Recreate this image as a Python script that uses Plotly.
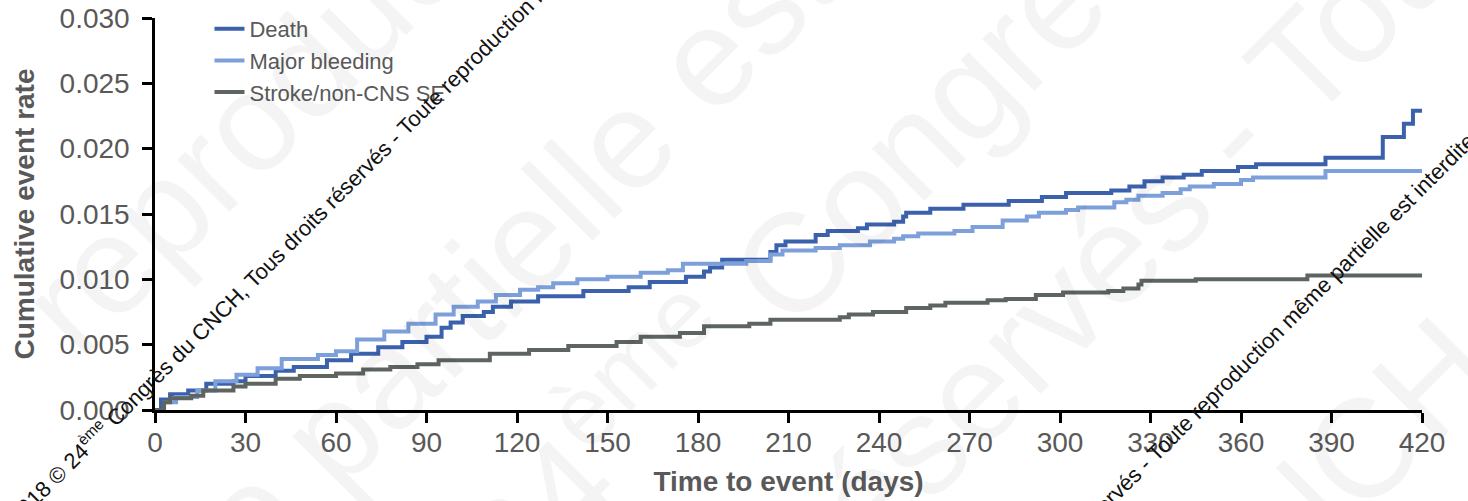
import plotly.graph_objects as go

# ---- data ----
death_t = [0, 2, 5, 11, 17, 26, 30, 40, 46, 57, 65, 74, 82, 90, 95, 98, 102, 109, 112, 118,
           127, 142, 157, 164, 176, 182, 184, 188, 204, 206, 209, 219, 223, 233, 236, 245,
           248, 249, 257, 268, 283, 294, 302, 317, 323, 328, 334, 341, 347, 359, 365, 388,
           407, 414, 417, 420]
death_v = [0, 0.0008, 0.0012, 0.0015, 0.0020, 0.0022, 0.0026, 0.0030, 0.0033, 0.0038,
           0.0043, 0.0048, 0.0052, 0.0056, 0.0063, 0.0067, 0.0072, 0.0075, 0.0079, 0.0083,
           0.0087, 0.0091, 0.0094, 0.0098, 0.0102, 0.0106, 0.0109, 0.0115, 0.0121, 0.0126,
           0.0129, 0.0134, 0.0137, 0.0139, 0.0142, 0.0144, 0.0148, 0.0151, 0.0154, 0.0157,
           0.0160, 0.0163, 0.0166, 0.0168, 0.0171, 0.0175, 0.0178, 0.0180, 0.0183, 0.0186,
           0.0188, 0.0193, 0.0209, 0.0219, 0.0229, 0.0229]

bleed_t = [0, 3, 7, 14, 20, 27, 34, 42, 54, 60, 67, 76, 84, 93, 99, 107, 113, 121, 127, 132,
           140, 150, 161, 170, 175, 196, 204, 208, 219, 227, 237, 245, 248, 253, 265, 271,
           281, 289, 293, 302, 306, 318, 322, 326, 334, 340, 343, 351, 360, 364, 388, 420]
bleed_v = [0, 0.0006, 0.0010, 0.0015, 0.0022, 0.0027, 0.0032, 0.0039, 0.0042, 0.0045,
           0.0054, 0.0060, 0.0066, 0.0073, 0.0079, 0.0083, 0.0088, 0.0092, 0.0094, 0.0097,
           0.0100, 0.0102, 0.0105, 0.0107, 0.0112, 0.0114, 0.0119, 0.0122, 0.0124, 0.0126,
           0.0129, 0.0131, 0.0133, 0.0135, 0.0137, 0.0140, 0.0145, 0.0148, 0.0151, 0.0153,
           0.0155, 0.0159, 0.0161, 0.0164, 0.0166, 0.0169, 0.0171, 0.0173, 0.0176, 0.0178,
           0.0183, 0.0183]

stroke_t = [0, 3, 5, 12, 16, 26, 30, 40, 48, 60, 69, 78, 87, 94, 111, 124, 137, 153, 161,
            174, 182, 197, 204, 227, 230, 238, 249, 257, 262, 276, 282, 292, 301, 316, 321,
            326, 327, 345, 382, 420]
stroke_v = [0, 0.0006, 0.0009, 0.0011, 0.0015, 0.0018, 0.0020, 0.0024, 0.0026, 0.0028,
            0.0031, 0.0033, 0.0035, 0.0038, 0.0043, 0.0046, 0.0049, 0.0052, 0.0056, 0.0059,
            0.0064, 0.0066, 0.0069, 0.0071, 0.0073, 0.0075, 0.0078, 0.0080, 0.0082, 0.0084,
            0.0085, 0.0088, 0.0090, 0.0091, 0.0093, 0.0096, 0.0099, 0.0100, 0.0103, 0.0103]

series_names = ["Death", "Major bleeding", "Stroke/non-CNS SE"]
series_colors = ["#3b61ad", "#7d9fda", "#5e6561"]

x_ticks = [0, 30, 60, 90, 120, 150, 180, 210, 240, 270, 300, 330, 360, 390, 420]
y_ticks = [0, 0.005, 0.010, 0.015, 0.020, 0.025, 0.030]

x_title = "Time to event (days)"
y_title = "Cumulative event rate"

wm_text = ("2018 © 24<sup>ème</sup> Congrès du CNCH, Tous droits réservés - "
           "Toute reproduction même partielle est interdite.")
faint_texts = ["reproduction", "même partielle est interdite.", "24<sup>ème</sup> Congrès",
               "réservés - Toute", "CNCH,"]

FONT = "Liberation Sans, Arial, sans-serif"
GRAY = "#595959"

fig = go.Figure()
for t, v, name, col in zip([death_t, bleed_t, stroke_t], [death_v, bleed_v, stroke_v],
                           series_names, series_colors):
    fig.add_trace(go.Scatter(x=t, y=v, mode="lines", name=name,
                             line=dict(color=col, width=4, shape="hv")))

# target plot area in page pixels: x 155..1422, y 18..410 (body margin removed below)
W, H = 1468, 501
L, R, T, B = 155, 1422, 18, 410
def px(xp):
    return (xp - L) / (R - L)
def py(yp):
    return (B - yp) / (B - T)

annotations = []
# faint large watermark
faint_pos = [(320, 52), (609, 155), (800, 242), (1160, 205), (1339, 472)]
for txt, (xx, yy) in zip(faint_texts, faint_pos):
    annotations.append(dict(text=txt, x=px(xx), y=py(yy), xref="paper", yref="paper",
                            showarrow=False, textangle=-45, xanchor="center", yanchor="middle",
                            font=dict(family=FONT, size=140, color="rgba(0,0,0,0.045)")))
# black diagonal watermark
for (xx, yy) in [(368, 162), (1118, 488)]:
    annotations.append(dict(text=wm_text, x=px(xx), y=py(yy), xref="paper", yref="paper",
                            showarrow=False, textangle=-45, xanchor="center", yanchor="middle",
                            font=dict(family=FONT, size=22, color="#111111")))

fig.update_layout(
    width=W, height=H,
    margin=dict(l=L, r=W - R, t=T, b=H - B, autoexpand=False),
    paper_bgcolor="white", plot_bgcolor="white",
    font=dict(family=FONT, color=GRAY),
    showlegend=True,
    legend=dict(x=0.043, y=1.0255, xanchor="left", yanchor="top",
                font=dict(size=22, color=GRAY), bgcolor="rgba(0,0,0,0)",
                tracegroupgap=0),
    annotations=annotations,
)
fig.update_xaxes(range=[0, 420], tickvals=x_ticks, showgrid=False, zeroline=False,
                 automargin=False, ticklabelstandoff=-4, ticklabeloverflow="allow",
                 showline=True, linecolor="black", linewidth=2.5,
                 ticks="outside", ticklen=10, tickwidth=2.5, tickcolor="black",
                 tickfont=dict(size=28, color=GRAY),
                 title=dict(text="<b>" + x_title + "</b>", font=dict(size=28, color=GRAY),
                            standoff=15))
fig.update_yaxes(range=[0, 0.030], tickvals=y_ticks, tickformat=".3f", showgrid=False,
                 automargin=False, ticklabelstandoff=7, ticklabeloverflow="allow",
                 zeroline=False, showline=True, linecolor="black", linewidth=2.5,
                 ticks="outside", ticklen=10, tickwidth=2.5, tickcolor="black",
                 tickfont=dict(size=28, color=GRAY),
                 title=dict(text="<b>" + y_title + "</b>", font=dict(size=28, color=GRAY),
                            standoff=17))

fig.write_html("out.html", config={"displayModeBar": False},
               post_script="document.body.style.margin='0px';"
                           "document.body.style.overflow='hidden';")
